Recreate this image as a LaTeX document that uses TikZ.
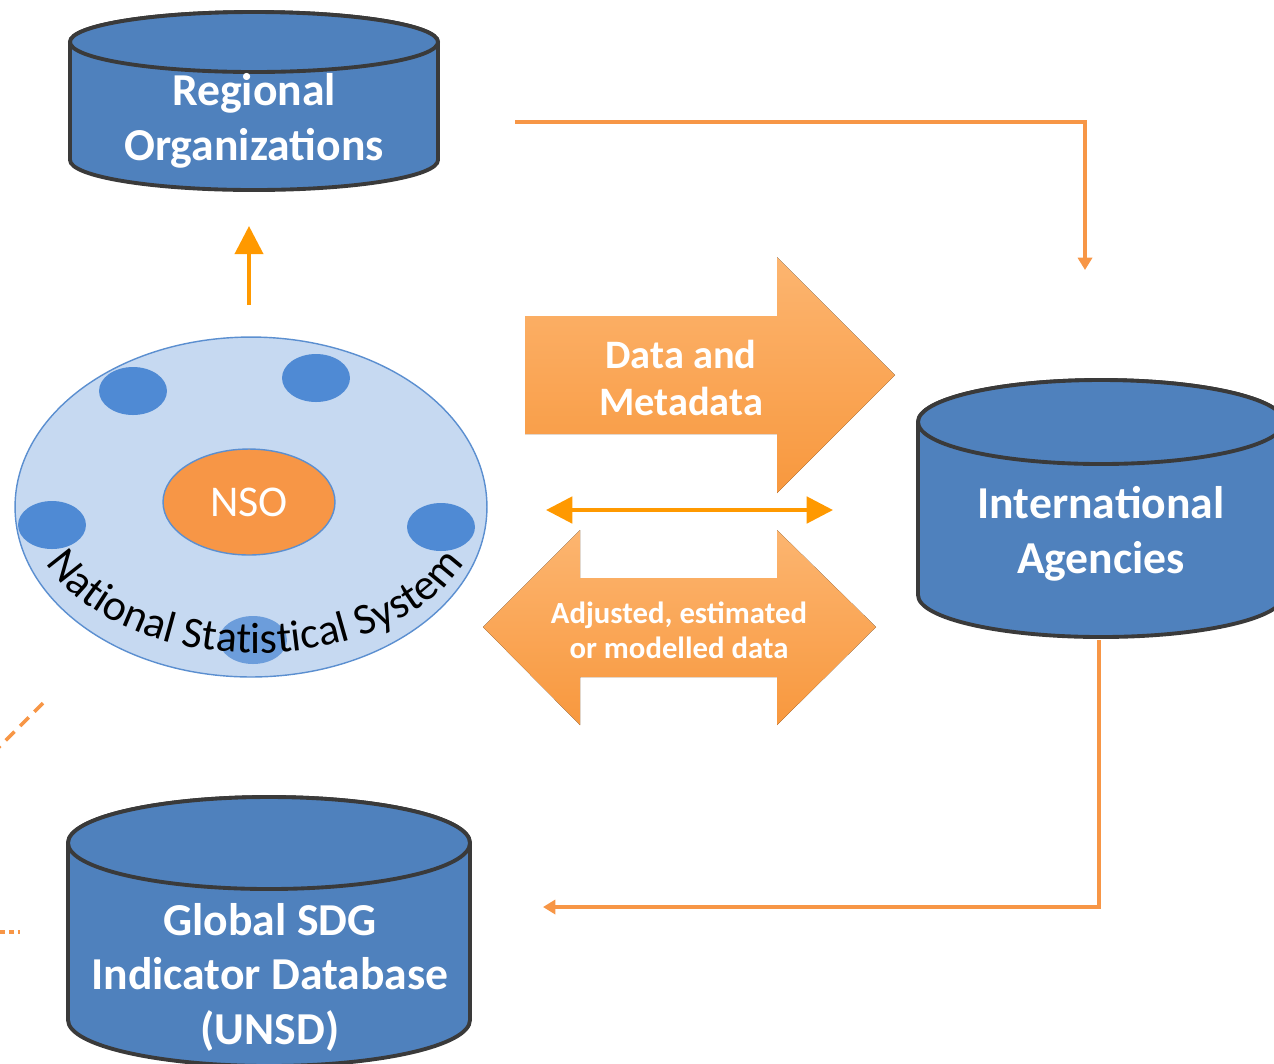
\documentclass[tikz,border=0pt]{standalone}
\usepackage{fontspec}
\setmainfont{Carlito}
\usetikzlibrary{arrows.meta,positioning,calc,shapes,decorations.text}

\definecolor{dbblue}{HTML}{4F81BD}
\definecolor{dbedge}{HTML}{3A3A3A}
\definecolor{nssfill}{HTML}{C6D9F1}
\definecolor{nssedge}{HTML}{5B8FD0}
\definecolor{unitblue}{HTML}{4F8AD4}
\definecolor{nsofill}{HTML}{F79646}
\definecolor{flowor}{HTML}{FF9900}
\definecolor{linkor}{HTML}{F79646}
\definecolor{arrtop}{HTML}{FCB570}
\definecolor{arrbot}{HTML}{F8983E}

\begin{document}
\begin{tikzpicture}[x=0.02cm,y=-0.02cm,
  dbcyl/.style={draw=dbedge,line width=2.2pt,fill=dbblue},
  dbtext/.style={text=white,align=center,font=\bfseries\fontsize{26}{31}\selectfont},
  unit/.style={ellipse,fill=unitblue,minimum width=1.36cm,minimum height=0.96cm},
  flow/.style={draw=flowor,line width=2.2pt},
  link/.style={draw=linkor,line width=2pt},
  bigarrow/.style={top color=arrtop,bottom color=arrbot,draw=none}]
\useasboundingbox (0,0) rectangle (1274,1063);

% Regional organizations
\draw[dbcyl] (70,42) -- (70,160) arc[start angle=180,end angle=0,x radius=184,y radius=30]
  -- (438,42) arc[start angle=0,end angle=-180,x radius=184,y radius=30] -- cycle;
\draw[dbcyl] (254,42) ellipse[x radius=184,y radius=30];
\node[dbtext] (ro) at (254,121) {Regional\\Organizations};

% International agencies
\draw[dbcyl] (918,422) -- (918,595) arc[start angle=180,end angle=0,x radius=183,y radius=42]
  -- (1284,422) arc[start angle=0,end angle=-180,x radius=183,y radius=42] -- cycle;
\draw[dbcyl] (1101,422) ellipse[x radius=183,y radius=42];
\node[dbtext] (ia) at (1101,534) {International\\Agencies};

% Global SDG indicator database
\draw[dbcyl] (68,843) -- (68,1020) arc[start angle=180,end angle=0,x radius=201,y radius=46]
  -- (470,843) arc[start angle=0,end angle=-180,x radius=201,y radius=46] -- cycle;
\draw[dbcyl] (269,843) ellipse[x radius=201,y radius=46];
\node[dbtext] (gdb) at (270,977) {Global SDG\\Indicator Database\\(UNSD)};

% National statistical system
\node[ellipse,draw=nssedge,fill=nssfill,line width=0.8pt,minimum width=9.44cm,minimum height=6.8cm] (nss) at (251,507) {};
\foreach \ux/\uy [count=\i] in {133/391, 316/378, 52/525, 441/527}
    \node[unit] (unit\i) at (\ux,\uy) {};
\node[unit,fill opacity=0.75] (unit5) at (253,640) {};
\node[ellipse,fill=nsofill,draw=nssedge,line width=0.8pt,minimum width=3.44cm,minimum height=2.12cm,
  text=white,font=\fontsize{25}{30}\selectfont] (nso) at (249,502) {NSO};
\path[decorate,decoration={text along path,text align=center,
  text={|\fontsize{25}{25}\selectfont|National Statistical System}}]
  (31,511) arc[start angle=180,end angle=0,x radius=224,y radius=142];

% Data flows
\fill[bigarrow] (525,316) -- (777,316) -- (777,257) -- (895,375) -- (777,493) -- (777,434) -- (525,434) -- cycle;
\node[text=white,align=center,font=\bfseries\fontsize{23}{27}\selectfont] (dm) at (681,378) {Data and\\Metadata};
\fill[bigarrow] (483,627) -- (580,530) -- (580,578) -- (777,578) -- (777,530) -- (876,627)
  -- (777,725) -- (777,677) -- (580,677) -- (580,725) -- cycle;
\node[text=white,align=center,font=\bfseries\fontsize{17.5}{20}\selectfont] (adj) at (679,630) {Adjusted, estimated\\or modelled data};

\coordinate (nss-up) at (249,305);
\coordinate (ro-up) at (249,226);
\draw[flow,-{Triangle[length=16pt,width=16pt]}] (nss-up) -- (ro-up);
\coordinate (sx-l) at (546,510);
\coordinate (sx-r) at (833,510);
\draw[flow,{Triangle[length=15pt,width=15pt]}-{Triangle[length=15pt,width=15pt]}] (sx-l) -- (sx-r);

% Links between agencies
\coordinate (ro-out) at (515,122);
\coordinate (ia-in) at (1085,270);
\draw[link,-{Triangle[length=7pt,width=8pt]}] (ro-out) -| (ia-in);
\coordinate (ia-out) at (1099,640);
\coordinate (gdb-in) at (543,907);
\draw[link,-{Triangle[length=7pt,width=8pt]}] (ia-out) |- (gdb-in);
\coordinate (cut-a) at (43,703);
\coordinate (cut-b) at (-2,748);
\draw[link,dash pattern=on 7pt off 4.5pt] (cut-a) -- (cut-b);
\coordinate (cut-c) at (0,932);
\coordinate (cut-d) at (20,932);
\draw[link,dash pattern=on 3pt off 2pt] (cut-c) -- (cut-d);
\end{tikzpicture}
\end{document}
